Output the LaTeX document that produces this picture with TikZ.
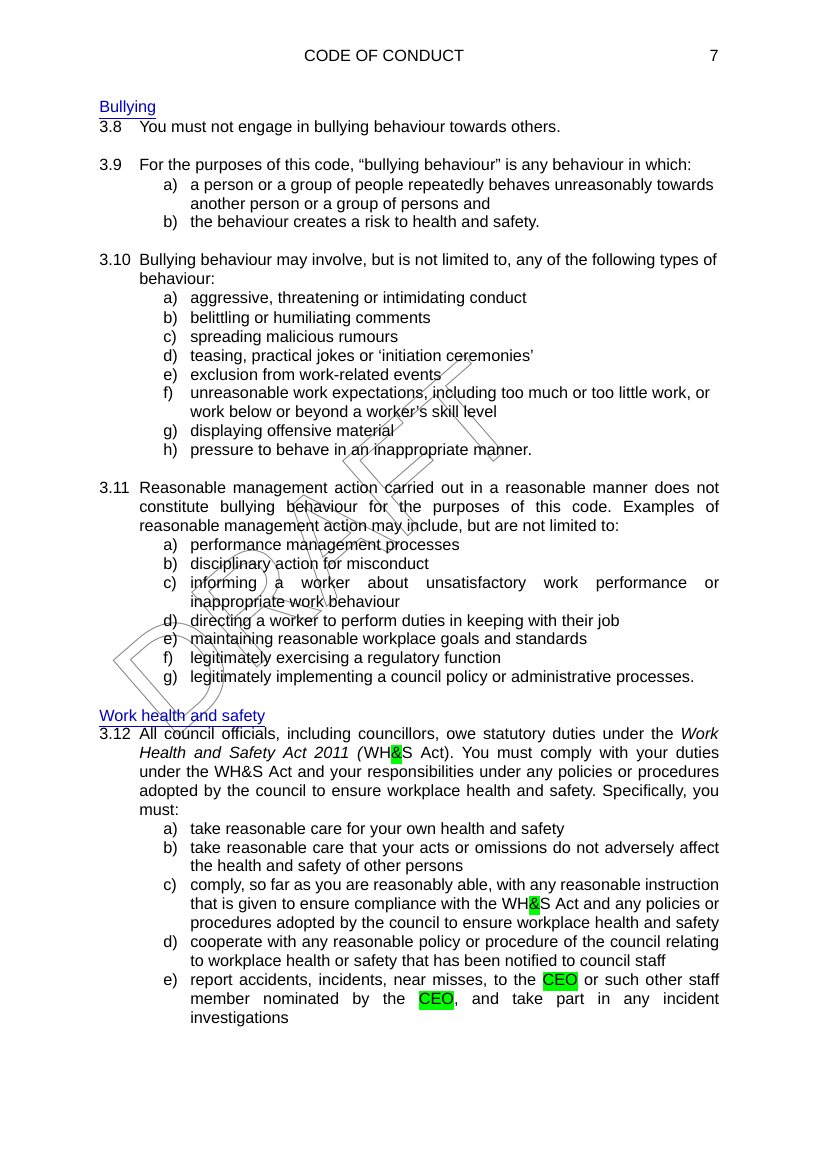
\documentclass[tikz,border=0pt]{standalone}
\usepackage{fontspec}
\setmainfont{Liberation Sans}
\usepackage{xcolor}
\definecolor{linkblue}{RGB}{0,0,190}
\definecolor{hlgreen}{RGB}{0,255,0}
\newlength\px \setlength\px{0.75pt}
\newcommand{\hl}[1]{{\setlength\fboxsep{0pt}\colorbox{hlgreen}{\strut #1}}}
\newcommand{\jl}[2]{\makebox[#1\px][s]{#2}}
\frenchspacing
\tikzset{txt/.style={anchor=base west, inner sep=0pt, font=\fontsize{12.2}{14}\selectfont}}
\begin{document}
\begin{tikzpicture}[x=0.75pt, y=-0.75pt]
    \useasboundingbox (0,0) rectangle (816,1155);
    % watermark
    \node[rotate=41, text=black!45, font=\fontsize{108}{110}\selectfont] (draft) at (318,548)
        {\special{pdf:code 1 Tr 0.7 w}DRAFT\special{pdf:code 0 Tr}};
    % header
    \node[txt, anchor=base] (head) at (384,62) {CODE OF CONDUCT};
    \node[txt, anchor=base east] (pg) at (719,62) {7};

    % Bullying
    \node[txt, text=linkblue] (bul) at (99,113) {\underline{Bullying}};
    \node[txt] (n38) at (99,133) {3.8};
    \node[txt] at (139,133) {You must not engage in bullying behaviour towards others.};
    \node[txt] (n39) at (99,171) {3.9};
    \node[txt] at (139,171) {For the purposes of this code, “bullying behaviour” is any behaviour in which:};
    \foreach \l/\y/\t in {a)/191/a person or a group of people repeatedly behaves unreasonably towards,
                          /210/another person or a group of persons and,
                          b)/228/the behaviour creates a risk to health and safety.}
      {\node[txt] at (163,\y) {\l}; \node[txt] at (190,\y) {\t};}

    \node[txt] (n310) at (99,266) {3.10};
    \node[txt] at (139,266) {Bullying behaviour may involve, but is not limited to, any of the following types of};
    \node[txt] at (139,285) {behaviour:};
    \foreach \l/\y/\t in {a)/304/{aggressive, threatening or intimidating conduct},
                          b)/323/belittling or humiliating comments,
                          c)/342/spreading malicious rumours,
                          d)/361/{teasing, practical jokes or ‘initiation ceremonies’},
                          e)/380/exclusion from work-related events,
                          f)/398/{unreasonable work expectations, including too much or too little work, or},
                          /417/work below or beyond a worker's skill level,
                          g)/436/displaying offensive material,
                          h)/455/pressure to behave in an inappropriate manner.}
      {\node[txt] at (163,\y) {\l}; \node[txt] at (190,\y) {\t};}

    \node[txt] (n311) at (99,493) {3.11};
    \node[txt] at (139,493) {\jl{580}{Reasonable management action carried out in a reasonable manner does not}};
    \node[txt] at (139,512) {\jl{580}{constitute bullying behaviour for the purposes of this code. Examples of}};
    \node[txt] at (139,531) {reasonable management action may include, but are not limited to:};
    \foreach \l/\y/\t in {a)/550/performance management processes,
                          b)/569/disciplinary action for misconduct,
                          c)/588/\jl{529}{informing a worker about unsatisfactory work performance or},
                          /607/inappropriate work behaviour,
                          d)/626/directing a worker to perform duties in keeping with their job,
                          e)/644/maintaining reasonable workplace goals and standards,
                          f)/663/legitimately exercising a regulatory function,
                          g)/682/legitimately implementing a council policy or administrative processes.}
      {\node[txt] at (163,\y) {\l}; \node[txt] at (190,\y) {\t};}

    % Work health and safety
    \node[txt, text=linkblue] (whs) at (99,721) {\underline{Work health and safety}};
    \node[txt] (n312) at (99,739) {3.12};
    \node[txt] at (139,739) {\jl{580}{All council officials, including councillors, owe statutory duties under the \textit{Work}}};
    \node[txt] at (139,758) {\jl{580}{\textit{Health and Safety Act 2011 (}WH\hl{\&}S Act). You must comply with your duties}};
    \node[txt] at (139,777) {\jl{580}{under the WH\&S Act and your responsibilities under any policies or procedures}};
    \node[txt] at (139,796) {\jl{580}{adopted by the council to ensure workplace health and safety. Specifically, you}};
    \node[txt] at (139,815) {must:};
    \foreach \l/\y/\t in {a)/834/take reasonable care for your own health and safety,
                          b)/853/\jl{529}{take reasonable care that your acts or omissions do not adversely affect},
                          /871/the health and safety of other persons,
                          c)/890/\jl{529}{comply, so far as you are reasonably able, with any reasonable instruction},
                          /909/\jl{529}{that is given to ensure compliance with the WH\hl{\&}S Act and any policies or},
                          /928/\jl{529}{procedures adopted by the council to ensure workplace health and safety},
                          d)/947/\jl{529}{cooperate with any reasonable policy or procedure of the council relating},
                          /966/to workplace health or safety that has been notified to council staff,
                          e)/985/\jl{529}{report accidents, incidents, near misses, to the \hl{CEO} or such other staff},
                          /1004/\jl{529}{member nominated by the \hl{CEO}, and take part in any incident},
                          /1023/investigations}
      {\node[txt] at (163,\y) {\l}; \node[txt] at (190,\y) {\t};}
\end{tikzpicture}
\end{document}
